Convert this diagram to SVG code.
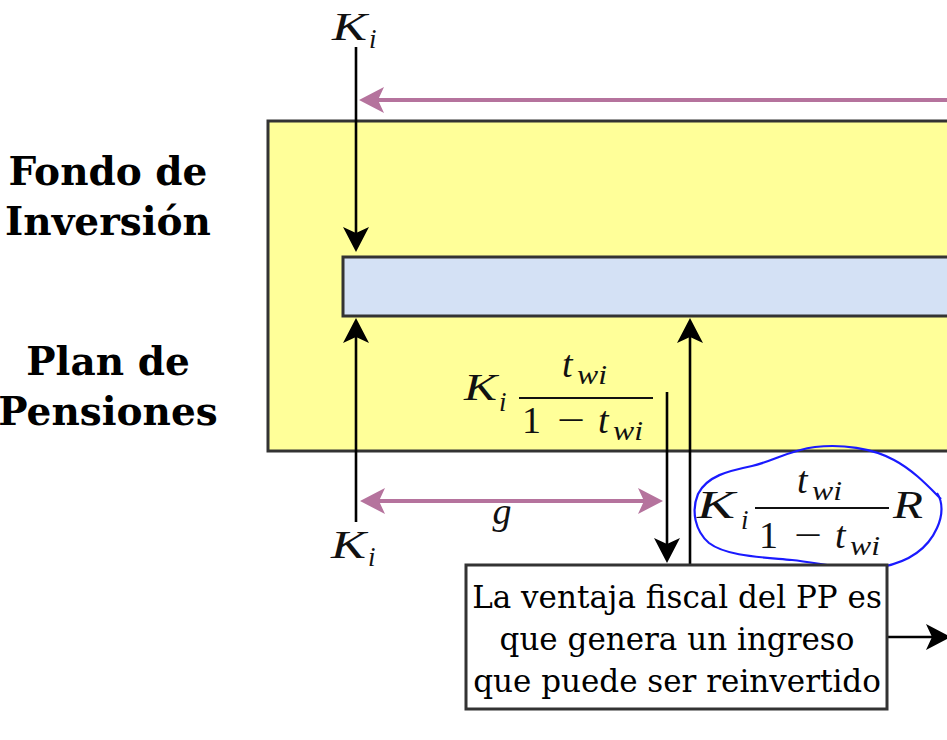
<svg xmlns="http://www.w3.org/2000/svg" width="947" height="740" viewBox="0 0 947 740">
<defs>
<style>
.lbl{font-family:"DejaVu Serif","Liberation Serif",serif;font-weight:bold;font-size:39px;fill:#000;text-anchor:middle}
.box{font-family:"DejaVu Serif","Liberation Serif",serif;font-size:31px;fill:#000;text-anchor:middle}
.m{font-family:"Liberation Serif","DejaVu Serif",serif;font-style:italic;fill:#111}
.up{font-family:"Liberation Serif","DejaVu Serif",serif;font-style:normal;fill:#111}
.blk{stroke:#000;stroke-width:2.6;fill:none}
.pur{stroke:#b5739d;stroke-width:4;fill:none}
</style>
<marker id="ab" viewBox="0 0 26 28" refX="19" refY="14" markerWidth="26" markerHeight="28" markerUnits="userSpaceOnUse" orient="auto">
<path d="M0,1 L25,14 L0,27 L6,14 Z" fill="#000"/>
</marker>
<marker id="ap" viewBox="0 0 26 28" refX="19" refY="14" markerWidth="26" markerHeight="28" markerUnits="userSpaceOnUse" orient="auto-start-reverse">
<path d="M0,1 L25,14 L0,27 L6,14 Z" fill="#b5739d"/>
</marker>
</defs>
<rect width="947" height="740" fill="#fff"/>
<g id="fondo">
<rect x="268" y="121" width="700" height="330" fill="#ffff99" stroke="#333" stroke-width="3"/>
</g>
<g id="cuenta">
<rect x="343" y="257" width="620" height="59" fill="#d4e1f5" stroke="#333" stroke-width="3"/>
</g>
<g id="labels">
<text class="lbl" x="108" y="185">Fondo de</text>
<text class="lbl" x="108" y="235">Inversión</text>
<text class="lbl" x="108" y="375">Plan de</text>
<text class="lbl" x="108" y="425">Pensiones</text>
</g>
<g id="connectors">
<line class="blk" x1="356" y1="47" x2="356" y2="246" marker-end="url(#ab)"/>
<line class="blk" x1="356" y1="522" x2="356" y2="324" marker-end="url(#ab)"/>
<line class="blk" x1="690" y1="565" x2="690" y2="324" marker-end="url(#ab)"/>
<line class="blk" x1="667" y1="392" x2="667" y2="557" marker-end="url(#ab)"/>
<line class="blk" x1="887" y1="637" x2="945" y2="637" marker-end="url(#ab)"/>
<line class="pur" x1="947" y1="100" x2="365" y2="100" marker-end="url(#ap)"/>
<line class="pur" x1="366" y1="501" x2="657" y2="501" marker-start="url(#ap)" marker-end="url(#ap)"/>
</g>
<g id="ki-top">
<text class="m" x="332" y="40" font-size="40" textLength="35" lengthAdjust="spacingAndGlyphs">K</text>
<text class="m" x="369" y="48" font-size="27">i</text>
</g>
<g id="ki-bottom">
<text class="m" x="331" y="558" font-size="40" textLength="35" lengthAdjust="spacingAndGlyphs">K</text>
<text class="m" x="368" y="566" font-size="27">i</text>
</g>
<g id="g-label">
<text class="m" x="502" y="524" font-size="38" text-anchor="middle">g</text>
</g>
<g id="formula1">
<text class="m" x="464" y="400" font-size="38" textLength="33" lengthAdjust="spacingAndGlyphs">K</text>
<text class="m" x="499" y="411" font-size="27">i</text>
<text class="m" x="562" y="377" font-size="38">t</text>
<text class="m" x="577" y="384" font-size="27" textLength="30" lengthAdjust="spacingAndGlyphs">wi</text>
<line x1="519" y1="398" x2="653" y2="398" stroke="#111" stroke-width="2"/>
<text class="up" x="522" y="433" font-size="38">1</text>
<text class="up" x="557" y="433" font-size="38" textLength="28" lengthAdjust="spacingAndGlyphs">−</text>
<text class="m" x="598" y="433" font-size="38">t</text>
<text class="m" x="613" y="440" font-size="27" textLength="30" lengthAdjust="spacingAndGlyphs">wi</text>
</g>
<g id="formula2">
<text class="m" x="697" y="518" font-size="40" textLength="38" lengthAdjust="spacingAndGlyphs">K</text>
<text class="m" x="741" y="529" font-size="27">i</text>
<text class="m" x="797" y="493" font-size="38">t</text>
<text class="m" x="812" y="500" font-size="27" textLength="30" lengthAdjust="spacingAndGlyphs">wi</text>
<line x1="755" y1="508" x2="889" y2="508" stroke="#111" stroke-width="2"/>
<text class="up" x="759" y="548" font-size="38">1</text>
<text class="up" x="794" y="548" font-size="38" textLength="28" lengthAdjust="spacingAndGlyphs">−</text>
<text class="m" x="835" y="548" font-size="38">t</text>
<text class="m" x="850" y="555" font-size="27" textLength="30" lengthAdjust="spacingAndGlyphs">wi</text>
<text class="m" x="893" y="518" font-size="40" textLength="30" lengthAdjust="spacingAndGlyphs">R</text>
<path d="M937,493 C943,502 943,515 937,528 C929,546 912,561 882,567 C852,572 822,563 792,560 C760,557 726,556 709,543 C695,531 691,511 698,494 C707,476 728,471 752,466 C774,461 790,450 815,447 C842,444 872,448 894,460 C913,470 928,486 941,499" fill="none" stroke="#1a1aff" stroke-width="2.2"/>
</g>
<g id="nota">
<rect x="466" y="565" width="421" height="144" fill="#fff" stroke="#333" stroke-width="3"/>
<text class="box" x="677" y="608">La ventaja fiscal del PP es</text>
<text class="box" x="677" y="650">que genera un ingreso</text>
<text class="box" x="677" y="692">que puede ser reinvertido</text>
</g>
</svg>
